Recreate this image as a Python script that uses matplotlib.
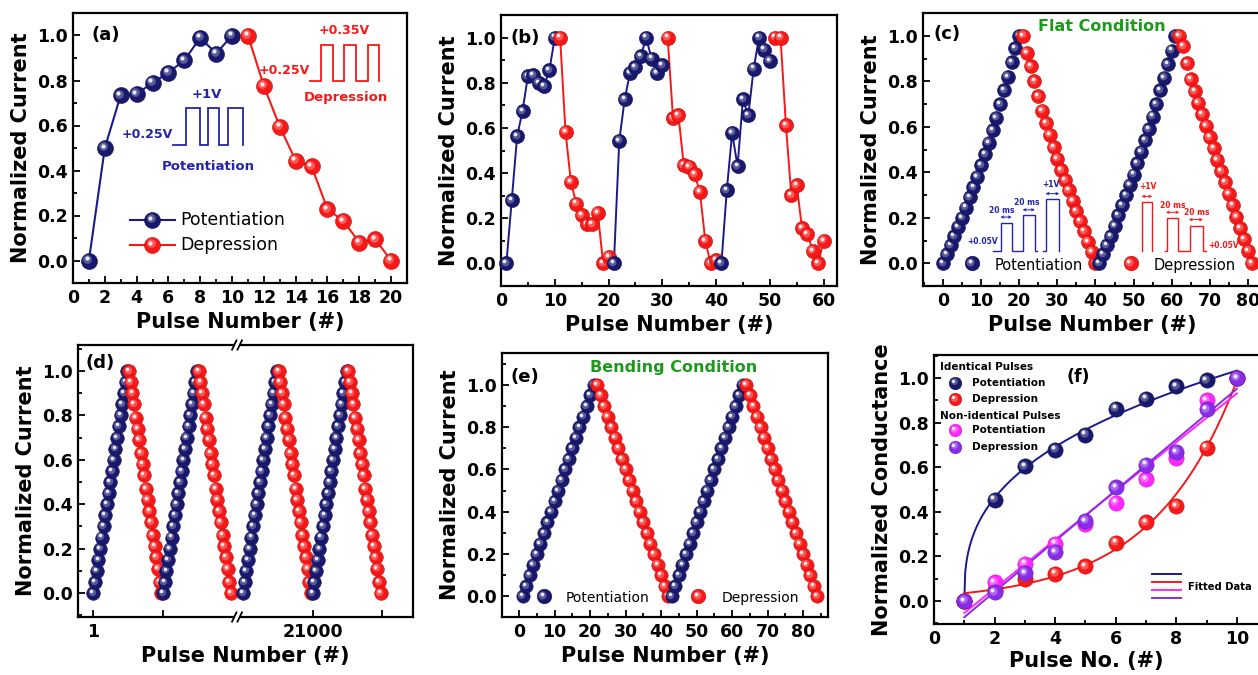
import numpy as np
import matplotlib
matplotlib.use("Agg")
import matplotlib.pyplot as plt
from matplotlib.ticker import MultipleLocator, FixedLocator, FormatStrFormatter
from matplotlib.transforms import offset_copy, blended_transform_factory
import matplotlib.colors as mcolors

# ---------------- data ----------------
# (a)
a_pot_x = [1, 2, 3, 4, 5, 6, 7, 8, 9, 10]
a_pot_y = [0.0, 0.50, 0.735, 0.74, 0.79, 0.835, 0.89, 0.99, 0.92, 1.0]
a_dep_x = [11, 12, 13, 14, 15, 16, 17, 18, 19, 20]
a_dep_y = [1.0, 0.776, 0.595, 0.444, 0.419, 0.228, 0.176, 0.08, 0.095, 0.0]

# (b)
b_pot1_x = [1, 2, 3, 4, 5, 6, 7, 8, 9, 10]
b_pot1_y = [0.0, 0.28, 0.563, 0.675, 0.829, 0.833, 0.80, 0.785, 0.855, 1.0]
b_dep1_x = [11, 12, 13, 14, 15, 16, 17, 18, 19, 20]
b_dep1_y = [1.0, 0.583, 0.361, 0.265, 0.214, 0.174, 0.174, 0.224, 0.0, 0.03]
b_pot2_x = [21, 22, 23, 24, 25, 26, 27, 28, 29, 30]
b_pot2_y = [0.0, 0.543, 0.726, 0.844, 0.87, 0.917, 1.0, 0.907, 0.844, 0.878]
b_dep2_x = [31, 32, 33, 34, 35, 36, 37, 38, 39, 40]
b_dep2_y = [1.0, 0.642, 0.656, 0.435, 0.428, 0.395, 0.317, 0.10, 0.0, 0.015]
b_pot3_x = [41, 42, 43, 44, 45, 46, 47, 48, 49, 50]
b_pot3_y = [0.0, 0.324, 0.578, 0.43, 0.726, 0.656, 0.863, 1.0, 0.947, 0.897]
b_dep3_x = [51, 52, 53, 54, 55, 56, 57, 58, 59, 60]
b_dep3_y = [1.0, 1.0, 0.612, 0.302, 0.347, 0.155, 0.13, 0.056, 0.0, 0.1]

# (c) flat condition
c_pot1_x = list(range(0, 21))
c_pot1_y = [0.0, 0.04, 0.08, 0.12, 0.16, 0.20, 0.245, 0.29, 0.335, 0.38, 0.43,
            0.48, 0.53, 0.585, 0.64, 0.70, 0.76, 0.82, 0.885, 0.945, 1.0]
c_dep1_x = list(range(21, 41))
c_dep1_y = [1.0, 0.925, 0.865, 0.80, 0.735, 0.67, 0.615, 0.565, 0.51, 0.46,
            0.41, 0.365, 0.32, 0.275, 0.23, 0.185, 0.14, 0.095, 0.05, 0.0]
c_pot2_x = list(range(41, 62))
c_pot2_y = [0.0, 0.04, 0.08, 0.12, 0.165, 0.21, 0.255, 0.30, 0.345, 0.39, 0.44,
            0.49, 0.54, 0.59, 0.645, 0.70, 0.76, 0.815, 0.875, 0.935, 1.0]
c_dep2_x = list(range(62, 82))
c_dep2_y = [1.0, 0.955, 0.88, 0.81, 0.755, 0.705, 0.655, 0.605, 0.555, 0.505,
            0.455, 0.405, 0.355, 0.305, 0.255, 0.205, 0.155, 0.105, 0.055, 0.0]

# (d) endurance (two early cycles, two cycles near pulse 21000)
d_pot1_x = list(range(1, 22))
d_pot1_y = [0.0, 0.05, 0.1, 0.15, 0.2, 0.25, 0.3, 0.35, 0.4, 0.45, 0.5,
            0.55, 0.6, 0.65, 0.7, 0.75, 0.8, 0.85, 0.9, 0.95, 1.0]
d_dep1_x = list(range(22, 42))
d_dep1_y = [1.0, 0.95, 0.9, 0.85, 0.79, 0.74, 0.69, 0.63, 0.58, 0.53,
            0.47, 0.42, 0.37, 0.32, 0.26, 0.21, 0.16, 0.11, 0.05, 0.0]
d_pot2_x = list(range(42, 63))
d_pot2_y = [0.0, 0.05, 0.1, 0.15, 0.2, 0.25, 0.3, 0.35, 0.4, 0.45, 0.5,
            0.55, 0.6, 0.65, 0.7, 0.75, 0.8, 0.85, 0.9, 0.95, 1.0]
d_dep2_x = list(range(63, 83))
d_dep2_y = [1.0, 0.95, 0.9, 0.85, 0.79, 0.74, 0.69, 0.63, 0.58, 0.53,
            0.47, 0.42, 0.37, 0.32, 0.26, 0.21, 0.16, 0.11, 0.05, 0.0]
d_pot3_x = list(range(89, 110))
d_pot3_y = [0.0, 0.05, 0.1, 0.15, 0.2, 0.25, 0.3, 0.35, 0.4, 0.45, 0.5,
            0.55, 0.6, 0.65, 0.7, 0.75, 0.8, 0.85, 0.9, 0.95, 1.0]
d_dep3_x = list(range(110, 130))
d_dep3_y = [1.0, 0.95, 0.9, 0.85, 0.79, 0.74, 0.69, 0.63, 0.58, 0.53,
            0.47, 0.42, 0.37, 0.32, 0.26, 0.21, 0.16, 0.11, 0.05, 0.0]
d_pot4_x = list(range(130, 151))
d_pot4_y = [0.0, 0.05, 0.1, 0.15, 0.2, 0.25, 0.3, 0.35, 0.4, 0.45, 0.5,
            0.55, 0.6, 0.65, 0.7, 0.75, 0.8, 0.85, 0.9, 0.95, 1.0]
d_dep4_x = list(range(151, 171))
d_dep4_y = [1.0, 0.95, 0.9, 0.85, 0.79, 0.74, 0.69, 0.63, 0.58, 0.53,
            0.47, 0.42, 0.37, 0.32, 0.26, 0.21, 0.16, 0.11, 0.05, 0.0]
d_tick_pos = [1, 42, 130, 171]
d_tick_labels = ["1", "", "21000", ""]
d_break_x = 85.5

# (e) bending condition
e_pot1_x = list(range(1, 22))
e_pot1_y = [0.0, 0.05, 0.1, 0.15, 0.2, 0.25, 0.3, 0.35, 0.4, 0.45, 0.5,
            0.55, 0.6, 0.65, 0.7, 0.75, 0.8, 0.85, 0.9, 0.95, 1.0]
e_dep1_x = list(range(22, 43))
e_dep1_y = [1.0, 0.95, 0.9, 0.85, 0.8, 0.75, 0.7, 0.65, 0.6, 0.55, 0.5,
            0.45, 0.4, 0.35, 0.3, 0.25, 0.2, 0.15, 0.1, 0.05, 0.0]
e_pot2_x = list(range(43, 64))
e_pot2_y = [0.0, 0.05, 0.1, 0.15, 0.2, 0.25, 0.3, 0.35, 0.4, 0.45, 0.5,
            0.55, 0.6, 0.65, 0.7, 0.75, 0.8, 0.85, 0.9, 0.95, 1.0]
e_dep2_x = list(range(64, 85))
e_dep2_y = [1.0, 0.95, 0.9, 0.85, 0.8, 0.75, 0.7, 0.65, 0.6, 0.55, 0.5,
            0.45, 0.4, 0.35, 0.3, 0.25, 0.2, 0.15, 0.1, 0.05, 0.0]

# (f) linearity
f_x = [1, 2, 3, 4, 5, 6, 7, 8, 9, 10]
f_id_pot = [0.0, 0.454, 0.604, 0.679, 0.746, 0.862, 0.907, 0.963, 0.99, 1.0]
f_id_dep = [0.0, 0.05, 0.10, 0.123, 0.155, 0.262, 0.354, 0.426, 0.688, 1.0]
f_ni_pot = [0.0, 0.085, 0.167, 0.257, 0.347, 0.441, 0.546, 0.643, 0.90, 1.0]
f_ni_dep = [0.0, 0.04, 0.126, 0.22, 0.359, 0.511, 0.611, 0.668, 0.86, 1.0]

# ---------------- style ----------------
NAVY = "#18186e"
NAVY_LINE = "#1a1a8a"
RED = "#f81818"
MAGENTA = "#ff26ff"
VIOLET = "#8a2be8"
GREEN = "#1c9a1c"
INSET_BLUE = "#2424a8"

plt.rcParams["font.family"] = ["DejaVu Sans"]
plt.rcParams["font.weight"] = "bold"
plt.rcParams["axes.labelweight"] = "bold"
plt.rcParams["axes.linewidth"] = 1.6

W, H = 1258, 675
fig = plt.figure(figsize=(W / 100, H / 100), dpi=100)
fig.patch.set_facecolor("white")


def make_ax(l, t, r, b):
    return fig.add_axes([l / W, 1 - b / H, (r - l) / W, (b - t) / H])


def tint(c, f):
    r, g, b = mcolors.to_rgb(c)
    return (r + (1 - r) * f, g + (1 - g) * f, b + (1 - b) * f)


def shade(c, f):
    r, g, b = mcolors.to_rgb(c)
    return (r * f, g * f, b * f)


def ball(ax, x, y, c, ms, tr=None, z=3):
    tr = ax.transData if tr is None else tr
    ax.plot([x], [y], ls="none", marker="o", ms=ms, mfc=c, mec=shade(c, 0.75),
            mew=0.4, transform=tr, zorder=z, clip_on=False)
    t2 = offset_copy(tr, fig=fig, x=-0.1 * ms, y=0.1 * ms, units="points")
    ax.plot([x], [y], ls="none", marker="o", ms=ms * 0.55, mfc=tint(c, 0.28),
            mec="none", transform=t2, zorder=z, clip_on=False)
    t3 = offset_copy(tr, fig=fig, x=-0.14 * ms, y=0.15 * ms, units="points")
    ax.plot([x], [y], ls="none", marker="o", ms=ms * 0.26, mfc=tint(c, 0.92),
            mec="none", transform=t3, zorder=z, clip_on=False)


def balls(ax, xs, ys, c, ms, z=3):
    for x, y in zip(xs, ys):
        ball(ax, x, y, c, ms, z=z)


def style(ax, xlim, ylim, xmaj=None, xmin=None):
    ax.set_xlim(*xlim)
    ax.set_ylim(*ylim)
    ax.yaxis.set_major_locator(MultipleLocator(0.2))
    ax.yaxis.set_minor_locator(MultipleLocator(0.1))
    ax.yaxis.set_major_formatter(FormatStrFormatter("%.1f"))
    if xmaj is not None:
        ax.xaxis.set_major_locator(MultipleLocator(xmaj))
        ax.xaxis.set_minor_locator(MultipleLocator(xmin))
    ax.tick_params(which="both", direction="in", top=False, right=False,
                   labelsize=12.5, width=1.3, pad=4)
    ax.tick_params(which="major", length=5)
    ax.tick_params(which="minor", length=3)


def square(ax, pts, color, lw=1.3):
    xs = [p[0] for p in pts]
    ys = [p[1] for p in pts]
    ax.plot(xs, ys, color=color, lw=lw, zorder=2, solid_joinstyle="miter")


def dbl_arrow(ax, x0, x1, y, color):
    ax.annotate("", xy=(x1, y), xytext=(x0, y),
                arrowprops=dict(arrowstyle="<->", color=color, lw=0.7,
                                mutation_scale=4, shrinkA=0, shrinkB=0))


# ---------------- (a) ----------------
ax = make_ax(73, 13, 407, 283)
style(ax, (0, 21), (-0.1, 1.1), 2, 1)
ax.plot(a_pot_x, a_pot_y, color=NAVY_LINE, lw=1.5, zorder=2)
ax.plot(a_dep_x, a_dep_y, color=RED, lw=1.5, zorder=2)
balls(ax, a_pot_x, a_pot_y, NAVY, 11.5)
balls(ax, a_dep_x, a_dep_y, RED, 11.5)
ax.set_xlabel("Pulse Number (#)", fontsize=15)
ax.set_ylabel("Normalized Current", fontsize=15)
ax.text(1.15, 1.0, "(a)", fontsize=13, ha="left", va="center")
# waveforms
bb, bt = 0.513, 0.677
square(ax, [(6.27, bb), (7.08, bb), (7.08, bt), (7.98, bt), (7.98, bb), (8.5, bb),
            (8.5, bt), (9.2, bt), (9.2, bb), (9.76, bb), (9.76, bt), (10.66, bt),
            (10.66, bb)], INSET_BLUE)
rb, rt = 0.796, 0.958
square(ax, [(14.88, rb), (15.61, rb), (15.61, rt), (16.34, rt), (16.34, rb), (17.01, rb),
            (17.01, rt), (17.8, rt), (17.8, rb), (18.54, rb), (18.54, rt), (19.23, rt),
            (19.23, rb)], RED)
ax.text(8.4, 0.74, "+1V", color=INSET_BLUE, fontsize=9.5, ha="center", va="center")
ax.text(6.3, 0.56, "+0.25V", color=INSET_BLUE, fontsize=9, ha="right", va="center")
ax.text(8.5, 0.42, "Potentiation", color=INSET_BLUE, fontsize=9.5, ha="center", va="center")
ax.text(17.07, 1.02, "+0.35V", color=RED, fontsize=9, ha="center", va="center")
ax.text(14.9, 0.846, "+0.25V", color=RED, fontsize=9, ha="right", va="center")
ax.text(17.18, 0.724, "Depression", color=RED, fontsize=9.5, ha="center", va="center")
# legend
for yy, col, lcol, lab in [(0.233, NAVY, NAVY_LINE, "Potentiation"), (0.141, RED, RED, "Depression")]:
    ax.plot([0.17, 0.305], [yy, yy], color=lcol, lw=1.5, transform=ax.transAxes, zorder=2)
    ball(ax, 0.238, yy, col, 11.5, tr=ax.transAxes)
    ax.text(0.322, yy, lab, transform=ax.transAxes, fontsize=12.5, fontweight="normal",
            ha="left", va="center")

# ---------------- (b) ----------------
ax = make_ax(501, 15, 837, 286)
style(ax, (0, 62.5), (-0.1, 1.1), 10, 5)
for xs, ys, col, lcol in [(b_pot1_x, b_pot1_y, NAVY, NAVY_LINE), (b_dep1_x, b_dep1_y, RED, RED),
                          (b_pot2_x, b_pot2_y, NAVY, NAVY_LINE), (b_dep2_x, b_dep2_y, RED, RED),
                          (b_pot3_x, b_pot3_y, NAVY, NAVY_LINE), (b_dep3_x, b_dep3_y, RED, RED)]:
    ax.plot(xs, ys, color=lcol, lw=1.4, zorder=2)
    balls(ax, xs, ys, col, 10.2)
ax.set_xlabel("Pulse Number (#)", fontsize=15)
ax.set_ylabel("Normalized Current", fontsize=15)
ax.text(1.8, 1.0, "(b)", fontsize=13, ha="left", va="center")

# ---------------- (c) ----------------
ax = make_ax(923, 13, 1262, 286)
style(ax, (-5.25, 83.7), (-0.1, 1.1), 10, 5)
for xs, ys, col in [(c_pot1_x, c_pot1_y, NAVY), (c_dep1_x, c_dep1_y, RED),
                    (c_pot2_x, c_pot2_y, NAVY), (c_dep2_x, c_dep2_y, RED)]:
    balls(ax, xs, ys, col, 10)
ax.set_xlabel("Pulse Number (#)", fontsize=15)
ax.set_ylabel("Normalized Current", fontsize=15)
ax.text(-2.4, 1.007, "(c)", fontsize=13, ha="left", va="center")
ax.text(41.7, 1.04, "Flat Condition", color=GREEN, fontsize=11.5, ha="center", va="center")
ball(ax, 7.5, 0.0, NAVY, 10.5)
ax.text(25, -0.012, "Potentiation", fontsize=10.5, fontweight="normal", ha="center", va="center")
ball(ax, 49.2, 0.0, RED, 10.5)
ax.text(66, -0.012, "Depression", fontsize=10.5, fontweight="normal", ha="center", va="center")
base = 0.056
square(ax, [(13.0, base), (15.1, base), (15.1, 0.177), (18.0, 0.177), (18.0, base),
            (20.9, base), (20.9, 0.214), (24.1, 0.214), (24.1, base), (24.7, base)], INSET_BLUE, 1.0)
square(ax, [(26.3, base), (26.9, base), (26.9, 0.281), (30.5, 0.281), (30.5, base)], INSET_BLUE, 1.0)
dbl_arrow(ax, 15.1, 18.0, 0.203, INSET_BLUE)
dbl_arrow(ax, 20.9, 24.1, 0.235, INSET_BLUE)
dbl_arrow(ax, 26.9, 30.5, 0.306, INSET_BLUE)
ax.text(15.3, 0.234, "20 ms", color=INSET_BLUE, fontsize=5.5, ha="center", va="center")
ax.text(22.0, 0.265, "20 ms", color=INSET_BLUE, fontsize=5.5, ha="center", va="center")
ax.text(28.4, 0.345, "+1V", color=INSET_BLUE, fontsize=5.5, ha="center", va="center")
ax.text(14.3, 0.096, "+0.05V", color=INSET_BLUE, fontsize=5.5, ha="right", va="center")
square(ax, [(52.1, base), (52.1, 0.269), (54.9, 0.269), (54.9, base)], RED, 1.0)
square(ax, [(58.3, base), (58.8, base), (58.8, 0.20), (61.7, 0.20), (61.7, base), (64.8, base),
            (64.8, 0.162), (68.1, 0.162), (68.1, base), (68.9, base)], RED, 1.0)
dbl_arrow(ax, 52.1, 54.9, 0.294, RED)
dbl_arrow(ax, 58.5, 62.0, 0.224, RED)
dbl_arrow(ax, 64.5, 68.2, 0.192, RED)
ax.text(53.8, 0.338, "+1V", color=RED, fontsize=5.5, ha="center", va="center")
ax.text(60.4, 0.252, "20 ms", color=RED, fontsize=5.5, ha="center", va="center")
ax.text(66.7, 0.222, "20 ms", color=RED, fontsize=5.5, ha="center", va="center")
ax.text(69.6, 0.079, "+0.05V", color=RED, fontsize=5.5, ha="left", va="center")

# ---------------- (d) ----------------
ax = make_ax(78, 345, 413, 617)
style(ax, (-8.0, 189.0), (-0.108, 1.117))
ax.xaxis.set_major_locator(FixedLocator(d_tick_pos))
ax.set_xticklabels(d_tick_labels)
for xs, ys, col in [(d_pot1_x, d_pot1_y, NAVY), (d_dep1_x, d_dep1_y, RED),
                    (d_pot2_x, d_pot2_y, NAVY), (d_dep2_x, d_dep2_y, RED),
                    (d_pot3_x, d_pot3_y, NAVY), (d_dep3_x, d_dep3_y, RED),
                    (d_pot4_x, d_pot4_y, NAVY), (d_dep4_x, d_dep4_y, RED)]:
    balls(ax, xs, ys, col, 9.8)
ax.set_xlabel("Pulse Number (#)", fontsize=15)
ax.set_ylabel("Normalized Current", fontsize=15)
ax.text(-3.3, 1.035, "(d)", fontsize=13, ha="left", va="center")
btr = blended_transform_factory(ax.transData, ax.transAxes)
for yy in (0.0, 1.0):
    ax.plot([d_break_x - 1.1, d_break_x + 1.1], [yy, yy], color="white", lw=3,
            transform=btr, clip_on=False, zorder=6, solid_capstyle="butt")
    for dx in (-1.6, 1.6):
        ax.plot([d_break_x + dx - 1.3, d_break_x + dx + 1.3], [yy - 0.017, yy + 0.017],
                color="black", lw=1.3, transform=btr, clip_on=False, zorder=7)

# ---------------- (e) ----------------
ax = make_ax(502, 353, 828, 617)
style(ax, (-4.8, 87.0), (-0.097, 1.15), 10, 5)
for xs, ys, col in [(e_pot1_x, e_pot1_y, NAVY), (e_dep1_x, e_dep1_y, RED),
                    (e_pot2_x, e_pot2_y, NAVY), (e_dep2_x, e_dep2_y, RED)]:
    balls(ax, xs, ys, col, 9.6)
ax.set_xlabel("Pulse Number (#)", fontsize=15)
ax.set_ylabel("Normalized Current", fontsize=15)
ax.text(-2.5, 1.036, "(e)", fontsize=13, ha="left", va="center")
ax.text(43.5, 1.083, "Bending Condition", color=GREEN, fontsize=11.5, ha="center", va="center")
ball(ax, 7.0, 0.0, NAVY, 10.5)
ax.text(24.9, -0.008, "Potentiation", fontsize=10, fontweight="normal", ha="center", va="center")
ball(ax, 50.5, 0.0, RED, 10.5)
ax.text(67.9, -0.008, "Depression", fontsize=10, fontweight="normal", ha="center", va="center")

# ---------------- (f) ----------------
ax = make_ax(934, 355, 1262, 624)
style(ax, (0, 10.83), (-0.103, 1.103), 2, 1)
fx = np.array(f_x, dtype=float)
xs_fit = np.linspace(1, 10, 300)

# power-law fit for identical potentiation
best = None
for p in np.linspace(0.1, 1.0, 181):
    A = np.vstack([np.ones_like(fx), (fx - 1) ** p]).T
    coef, res, *_ = np.linalg.lstsq(A, np.array(f_id_pot), rcond=None)
    r = np.sum((A @ coef - np.array(f_id_pot)) ** 2)
    if best is None or r < best[0]:
        best = (r, p, coef)
_, p, coef = best
fit_pot = coef[0] + coef[1] * (xs_fit - 1) ** p

# exponential fit for identical depression
best = None
for t in np.linspace(0.5, 10, 400):
    A = np.vstack([np.ones_like(fx), np.exp(fx / t)]).T
    coef, *_ = np.linalg.lstsq(A, np.array(f_id_dep), rcond=None)
    r = np.sum((A @ coef - np.array(f_id_dep)) ** 2)
    if best is None or r < best[0]:
        best = (r, t, coef)
_, t, coef = best
fit_dep = coef[0] + coef[1] * np.exp(xs_fit / t)

lin_p = np.polyfit(fx, f_ni_pot, 1)
lin_d = np.polyfit(fx, f_ni_dep, 1)

ax.plot(xs_fit, fit_pot, color=NAVY_LINE, lw=1.4, zorder=2)
ax.plot(xs_fit, fit_dep, color=RED, lw=1.4, zorder=2)
ax.plot(xs_fit, np.polyval(lin_p, xs_fit), color=MAGENTA, lw=1.4, zorder=2)
ax.plot(xs_fit, np.polyval(lin_d, xs_fit), color=VIOLET, lw=1.4, zorder=2)
balls(ax, f_x, f_id_pot, NAVY, 11)
balls(ax, f_x, f_id_dep, RED, 11)
balls(ax, f_x, f_ni_pot, MAGENTA, 11)
balls(ax, f_x, f_ni_dep, VIOLET, 11)
ax.set_xlabel("Pulse No. (#)", fontsize=15)
ax.xaxis.set_label_coords(0.463, -0.1)
ax.set_ylabel("Normalized Conductance", fontsize=15)
ax.text(4.75, 1.006, "(f)", fontsize=12.5, ha="center", va="center")
ax.text(0.018, 0.957, "Identical Pulses", transform=ax.transAxes, fontsize=7.5, ha="left", va="center")
ax.text(0.018, 0.774, "Non-identical Pulses", transform=ax.transAxes, fontsize=7.5, ha="left", va="center")
for yy, col, lab in [(0.897, NAVY, "Potentiation"), (0.836, RED, "Depression"),
                     (0.721, MAGENTA, "Potentiation"), (0.659, VIOLET, "Depression")]:
    ball(ax, 0.064, yy, col, 9, tr=ax.transAxes)
    ax.text(0.115, yy, lab, transform=ax.transAxes, fontsize=7.5, ha="left", va="center")
for yy, col in [(0.186, NAVY_LINE), (0.156, RED), (0.126, MAGENTA), (0.097, VIOLET)]:
    ax.plot([0.665, 0.753], [yy, yy], color=col, lw=1.4, transform=ax.transAxes)
ax.text(0.774, 0.138, "Fitted Data", transform=ax.transAxes, fontsize=7.2, ha="left", va="center")

fig.savefig("out.png", dpi=100, facecolor="white")
